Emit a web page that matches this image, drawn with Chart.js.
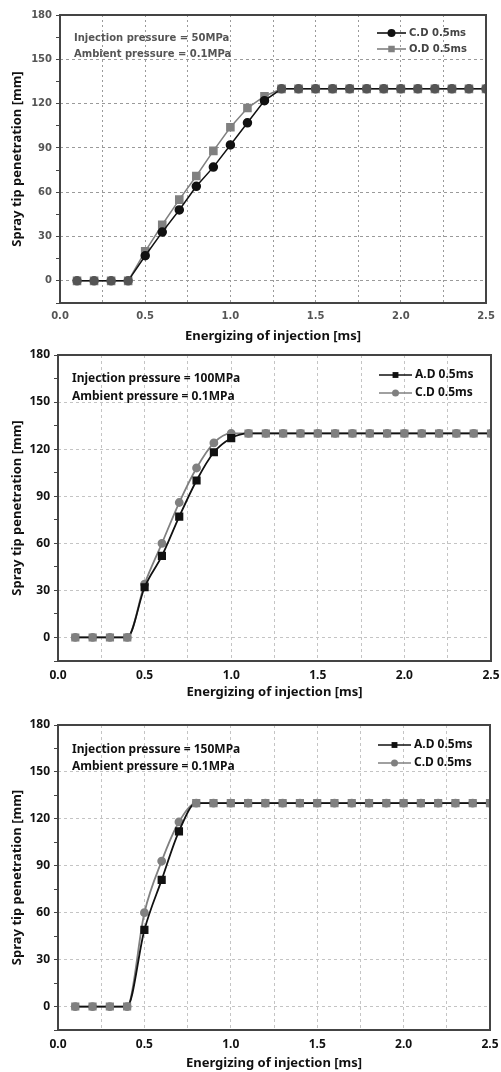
<!DOCTYPE html>
<html lang="en">
<head>
    <meta charset="UTF-8">
    <title>Spray tip penetration</title>
    <style>
        body {
            margin: 0;
            background-color: #ffffff;
            width: 501px;
            height: 1072px;
            position: relative;
            overflow: hidden;
        }
        canvas {
            position: absolute;
            left: 0;
        }
    </style>
</head>
<body>
    <canvas id="chart50" width="501" height="350" style="top: 0px;"></canvas>
    <canvas id="chart100" width="501" height="370" style="top: 340px;"></canvas>
    <canvas id="chart150" width="501" height="362" style="top: 710px;"></canvas>

    <script src="https://cdn.jsdelivr.net/npm/chart.js"></script>
    <script>
        // energizing time [ms]
        const times = [0.1, 0.2, 0.3, 0.4, 0.5, 0.6, 0.7, 0.8, 0.9, 1.0, 1.1, 1.2, 1.3,
                       1.4, 1.5, 1.6, 1.7, 1.8, 1.9, 2.0, 2.1, 2.2, 2.3, 2.4, 2.5];

        // 50 MPa
        const cd50 = [0, 0, 0, 0, 17, 33, 48, 64, 77, 92, 107, 122, 130,
                      130, 130, 130, 130, 130, 130, 130, 130, 130, 130, 130, 130];
        const od50 = [0, 0, 0, 0, 20, 38, 55, 71, 88, 104, 117, 125, 130,
                      130, 130, 130, 130, 130, 130, 130, 130, 130, 130, 130, 130];

        // 100 MPa
        const ad100 = [0, 0, 0, 0, 32, 52, 77, 100, 118, 127, 130, 130, 130,
                       130, 130, 130, 130, 130, 130, 130, 130, 130, 130, 130, 130];
        const cd100 = [0, 0, 0, 0, 34, 60, 86, 108, 124, 130, 130, 130, 130,
                       130, 130, 130, 130, 130, 130, 130, 130, 130, 130, 130, 130];

        // 150 MPa
        const ad150 = [0, 0, 0, 0, 49, 81, 112, 130, 130, 130, 130, 130, 130,
                       130, 130, 130, 130, 130, 130, 130, 130, 130, 130, 130, 130];
        const cd150 = [0, 0, 0, 0, 60, 93, 118, 130, 130, 130, 130, 130, 130,
                       130, 130, 130, 130, 130, 130, 130, 130, 130, 130, 130, 130];

        const notes50 = ['Injection pressure = 50MPa', 'Ambient pressure = 0.1MPa'];
        const notes100 = ['Injection pressure = 100MPa', 'Ambient pressure = 0.1MPa'];
        const notes150 = ['Injection pressure = 150MPa', 'Ambient pressure = 0.1MPa'];

        const xTitle = 'Energizing of injection [ms]';
        const yTitle = 'Spray tip penetration [mm]';

        function toPoints(values) {
            return times.map((t, i) => ({ x: t, y: values[i] }));
        }

        // frame, legend and the two text lines inside the plot
        const decorPlugin = {
            id: 'decor',
            afterDraw(chart) {
                const o = chart.options.plugins.decor;
                const ctx = chart.ctx;
                const a = chart.chartArea;
                ctx.save();

                // notes
                ctx.fillStyle = o.noteColor;
                ctx.font = o.noteFont;
                ctx.textBaseline = 'middle';
                ctx.textAlign = 'left';
                o.notes.forEach((line, i) => {
                    ctx.fillText(line, a.left + 14, a.top + o.noteY[i]);
                });

                // legend
                chart.data.datasets.forEach((ds, i) => {
                    const y = a.top + o.legendY[i];
                    const x0 = a.right - o.legendLine[0];
                    const x1 = a.right - o.legendLine[1];
                    ctx.strokeStyle = ds.borderColor;
                    ctx.lineWidth = 1.6;
                    ctx.beginPath();
                    ctx.moveTo(x0, y);
                    ctx.lineTo(x1, y);
                    ctx.stroke();
                    ctx.fillStyle = ds.borderColor;
                    const cx = (x0 + x1) / 2;
                    if (ds.pointStyle === 'rect') {
                        const h = ds.pointRadius * 0.65;
                        ctx.fillRect(cx - h, y - h, h * 2, h * 2);
                    } else {
                        ctx.beginPath();
                        ctx.arc(cx, y, ds.pointRadius, 0, Math.PI * 2);
                        ctx.fill();
                    }
                    ctx.fillStyle = o.legendColor;
                    ctx.font = o.legendFont;
                    ctx.fillText(ds.label, x1 + 3, y);
                });

                // frame
                ctx.strokeStyle = '#444444';
                ctx.lineWidth = 2;
                ctx.strokeRect(a.left, a.top, a.right - a.left, a.bottom - a.top);
                ctx.restore();
            }
        };

        function makeChart(id, cfg) {
            const ctx = document.getElementById(id).getContext('2d');
            const canvasHeight = document.getElementById(id).height;
            const [first, second] = cfg.series;
            // where the two series sit on the same value the first one's marker takes the shared colour
            const firstPointColor = c => (c.raw && c.raw.y === second.values[c.dataIndex]) ? cfg.sharedColor : first.color;
            return new Chart(ctx, {
                type: 'line',
                data: {
                    datasets: cfg.series.map((s, k) => ({
                        label: s.label,
                        data: toPoints(s.values),
                        borderColor: s.color,
                        backgroundColor: s.color,
                        pointBackgroundColor: k === 0 ? firstPointColor : s.color,
                        pointBorderColor: k === 0 ? firstPointColor : s.color,
                        pointStyle: s.marker,
                        pointRadius: s.marker === 'rect' ? cfg.pointRadius + 1 : cfg.pointRadius,
                        borderWidth: cfg.lineWidth,
                        cubicInterpolationMode: cfg.smooth ? 'monotone' : 'default',
                        tension: 0,
                        fill: false
                    }))
                },
                options: {
                    responsive: false,
                    animation: false,
                    layout: {
                        padding: { top: 15, right: 501 - cfg.right, left: 0, bottom: 0 }
                    },
                    scales: {
                        x: {
                            type: 'linear',
                            min: 0,
                            max: 2.5,
                            border: { display: false, dash: cfg.xDash },
                            afterFit(scale) {
                                scale.height = canvasHeight - cfg.bottom;
                                scale.paddingLeft = 0;
                                scale.paddingRight = 0;
                            },
                            grid: {
                                drawTicks: false,
                                color: c => (c.tick && c.tick.value > 0 && c.tick.value < 2.5) ? cfg.gridColor : 'rgba(0,0,0,0)',
                                lineWidth: 1
                            },
                            ticks: {
                                stepSize: 0.25,
                                autoSkip: false,
                                maxRotation: 0,
                                padding: 7,
                                color: cfg.tickColor,
                                font: cfg.tickFont,
                                callback: v => (Math.abs(v * 2 - Math.round(v * 2)) < 1e-6) ? v.toFixed(1) : ''
                            },
                            title: {
                                display: true,
                                text: xTitle,
                                color: '#111111',
                                font: { family: 'Noto Sans', weight: 'bold', size: 13 },
                                padding: { top: 0, bottom: cfg.xTitlePad }
                            }
                        },
                        y: {
                            min: -15,
                            max: 180,
                            border: { display: false, dash: [3, 3] },
                            afterFit(scale) {
                                scale.width = cfg.left;
                                scale.paddingTop = 0;
                                scale.paddingBottom = 0;
                            },
                            grid: {
                                drawTicks: true,
                                tickLength: 4,
                                tickColor: '#444444',
                                color: c => (c.tick && c.tick.value % 30 === 0 && c.tick.value > -15 && c.tick.value < 180) ? cfg.gridColor : 'rgba(0,0,0,0)',
                                lineWidth: 1
                            },
                            ticks: {
                                stepSize: 15,
                                autoSkip: false,
                                padding: 4,
                                color: cfg.tickColor,
                                font: cfg.tickFont,
                                callback: v => (v % 30 === 0 && v >= 0) ? String(v) : ''
                            },
                            title: {
                                display: true,
                                text: yTitle,
                                color: '#111111',
                                font: { family: 'Noto Sans', weight: 'bold', size: 13 },
                                padding: { top: 9, bottom: 0 }
                            }
                        }
                    },
                    plugins: {
                        legend: { display: false },
                        tooltip: { enabled: false },
                        decor: cfg.decor
                    }
                },
                plugins: [decorPlugin]
            });
        }

        makeChart('chart50', {
            left: 60, right: 486, bottom: 303,
            xTitlePad: 6,
            smooth: false,
            lineWidth: 1.5,
            pointRadius: 4,
            xDash: [2, 3],
            gridColor: '#9a9a9a',
            sharedColor: '#555555',
            tickColor: '#555555',
            tickFont: { family: 'DejaVu Sans', weight: 'bold', size: 10 },
            series: [
                { label: 'C.D 0.5ms', values: cd50, color: '#111111', marker: 'circle' },
                { label: 'O.D 0.5ms', values: od50, color: '#808080', marker: 'rect' }
            ],
            decor: {
                notes: notes50,
                noteY: [23, 39],
                noteFont: 'bold 10px "DejaVu Sans"',
                noteColor: '#555555',
                legendY: [18, 34],
                legendLine: [109, 80],
                legendFont: 'bold 10px "DejaVu Sans"',
                legendColor: '#444444'
            }
        });

        makeChart('chart100', {
            left: 58, right: 491, bottom: 321,
            xTitlePad: 10,
            smooth: true,
            lineWidth: 1.8,
            pointRadius: 3.5,
            xDash: [3, 3],
            gridColor: '#c4c4c4',
            sharedColor: '#808080',
            tickColor: '#111111',
            tickFont: { family: 'Noto Sans', weight: 'bold', size: 12 },
            series: [
                { label: 'A.D 0.5ms', values: ad100, color: '#111111', marker: 'rect' },
                { label: 'C.D 0.5ms', values: cd100, color: '#808080', marker: 'circle' }
            ],
            decor: {
                notes: notes100,
                noteY: [24, 42],
                noteFont: 'bold 12px "Noto Sans"',
                noteColor: '#111111',
                legendY: [20, 38],
                legendLine: [112, 79],
                legendFont: 'bold 12px "Noto Sans"',
                legendColor: '#111111'
            }
        });

        makeChart('chart150', {
            left: 58, right: 490, bottom: 320,
            xTitlePad: 1,
            smooth: true,
            lineWidth: 1.8,
            pointRadius: 3.5,
            xDash: [3, 3],
            gridColor: '#c4c4c4',
            sharedColor: '#808080',
            tickColor: '#111111',
            tickFont: { family: 'Noto Sans', weight: 'bold', size: 12 },
            series: [
                { label: 'A.D 0.5ms', values: ad150, color: '#111111', marker: 'rect' },
                { label: 'C.D 0.5ms', values: cd150, color: '#808080', marker: 'circle' }
            ],
            decor: {
                notes: notes150,
                noteY: [25, 42],
                noteFont: 'bold 12px "Noto Sans"',
                noteColor: '#111111',
                legendY: [20, 38],
                legendLine: [112, 79],
                legendFont: 'bold 12px "Noto Sans"',
                legendColor: '#111111'
            }
        });
    </script>
</body>
</html>
